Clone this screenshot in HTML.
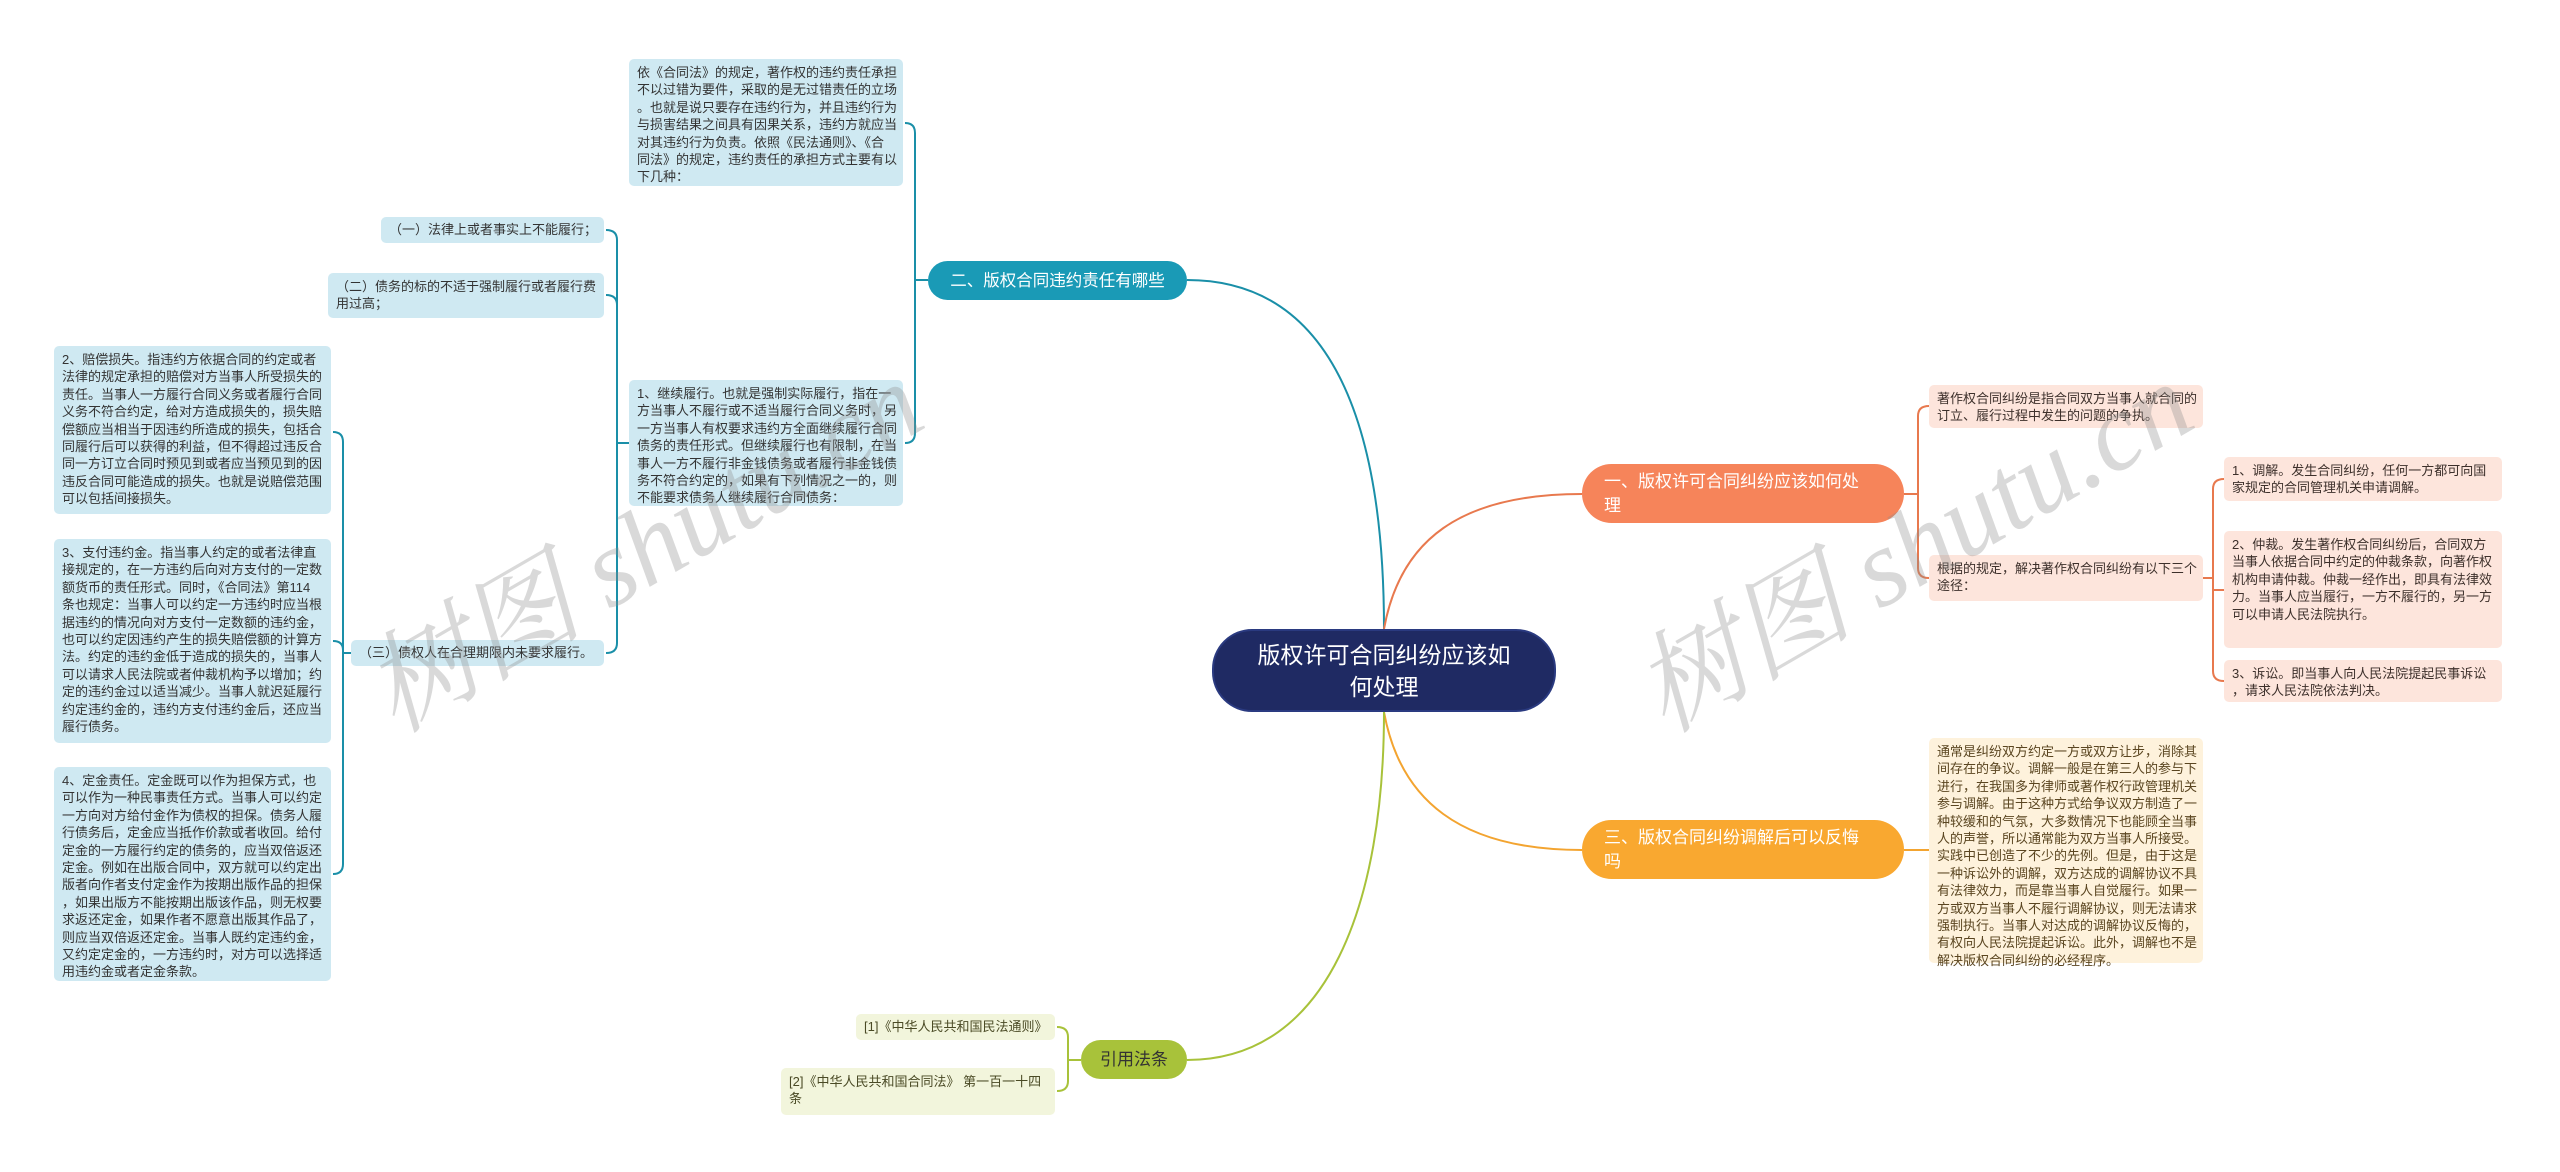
<!DOCTYPE html>
<html><head><meta charset="utf-8"><style>
html,body{margin:0;padding:0}
body{width:2560px;height:1172px;position:relative;background:#fff;overflow:hidden;font-family:"Liberation Sans","Noto Sans CJK SC",sans-serif}
.b{position:absolute;box-sizing:border-box;font-size:13px;line-height:17.4px;padding:5px 8px;border-radius:5px;white-space:nowrap;color:#333}
.bl{background:#cfe9f2}
.pk{background:#fde5dc;color:#3d302b}
.yl{background:#fef2dc;color:#5a4520}
.gr{background:#f2f5dc;color:#4a4a25}
.n{position:absolute;box-sizing:border-box;color:#fff;font-size:17px;line-height:24px;border-radius:30px;padding:0 22px;display:flex;align-items:center}
.wm{position:absolute;font-family:"Liberation Serif","Noto Serif CJK SC",serif;font-size:110px;color:rgba(140,140,140,0.33);transform:rotate(-30deg);white-space:nowrap;font-style:italic}
svg{position:absolute;left:0;top:0}
</style></head><body>
<svg width="2560" height="1172" fill="none" stroke-width="2">
<path d="M1384,629 C1384,420 1330,280 1187,280" stroke="#1a8fa8"/>
<path d="M1384,629 C1400,540 1460,494 1582,494" stroke="#e8794e"/>
<path d="M1384,712 C1400,800 1460,850 1582,850" stroke="#f3a430"/>
<path d="M1384,712 C1384,900 1330,1060 1187,1060" stroke="#a8c23a"/>
<g stroke="#1a8fa8">
<path d="M928,280 H915 M915,280 V133 Q915,123 905,123 M915,280 V433 Q915,443 905,443"/>
<path d="M629,443 H617 M617,443 V240 Q617,230 606,230 M617,443 V305 Q617,295 606,295 M617,443 V643 Q617,653 606,653"/>
<path d="M351,653 H343 M343,653 V442 Q343,432 333,432 M343,653 V650 Q343,641 333,641 M343,653 V864 Q343,874 333,874"/>
</g>
<g stroke="#e8794e">
<path d="M1904,494 H1918 M1918,494 V416 Q1918,406 1929,406 M1918,494 V568 Q1918,578 1929,578"/>
<path d="M2203,578 H2213 M2213,578 V489 Q2213,479 2224,479 M2213,578 V590 H2224 M2213,578 V671 Q2213,681 2224,681"/>
</g>
<path d="M1904,850 H1929" stroke="#f3a430"/>
<path d="M1081,1060 H1068 M1068,1060 V1037 Q1068,1027 1057,1027 M1068,1060 V1081 Q1068,1091 1057,1091" stroke="#a8c23a"/>
</svg>

<div class="n" style="left:1212px;top:629px;width:344px;height:83px;background:#1f2a63;border-radius:40px;font-size:23px;line-height:32px;justify-content:center;text-align:center;border:2px solid #2a3a80">版权许可合同纠纷应该如<br>何处理</div>
<div class="n" style="left:928px;top:261px;width:259px;height:39px;background:#1a9ab6;justify-content:center;padding:0;white-space:nowrap;font-size:16.5px">二、版权合同违约责任有哪些</div>
<div class="n" style="left:1582px;top:464px;width:322px;height:59px;background:#f6845a">一、版权许可合同纠纷应该如何处<br>理</div>
<div class="n" style="left:1582px;top:820px;width:322px;height:59px;background:#f9a830">三、版权合同纠纷调解后可以反悔<br>吗</div>
<div class="n" style="left:1081px;top:1040px;width:106px;height:39px;background:#a8c23a;color:#333;justify-content:center;padding:0">引用法条</div>

<div class="b bl" style="left:629px;top:59px;width:274px;height:127px">依《合同法》的规定，著作权的违约责任承担<br>不以过错为要件，采取的是无过错责任的立场<br>。也就是说只要存在违约行为，并且违约行为<br>与损害结果之间具有因果关系，违约方就应当<br>对其违约行为负责。依照《民法通则》、《合<br>同法》的规定，违约责任的承担方式主要有以<br>下几种：</div>
<div class="b bl" style="left:629px;top:380px;width:274px;height:126px">1、继续履行。也就是强制实际履行，指在一<br>方当事人不履行或不适当履行合同义务时，另<br>一方当事人有权要求违约方全面继续履行合同<br>债务的责任形式。但继续履行也有限制，在当<br>事人一方不履行非金钱债务或者履行非金钱债<br>务不符合约定的，如果有下列情况之一的，则<br>不能要求债务人继续履行合同债务：</div>
<div class="b bl" style="left:381px;top:217px;width:223px;height:26px;padding-top:4px;text-align:right">（一）法律上或者事实上不能履行；</div>
<div class="b bl" style="left:328px;top:273px;width:276px;height:45px">（二）债务的标的不适于强制履行或者履行费<br>用过高；</div>
<div class="b bl" style="left:351px;top:640px;width:253px;height:26px;padding-top:4px">（三）债权人在合理期限内未要求履行。</div>
<div class="b bl" style="left:54px;top:346px;width:277px;height:168px">2、赔偿损失。指违约方依据合同的约定或者<br>法律的规定承担的赔偿对方当事人所受损失的<br>责任。当事人一方履行合同义务或者履行合同<br>义务不符合约定，给对方造成损失的，损失赔<br>偿额应当相当于因违约所造成的损失，包括合<br>同履行后可以获得的利益，但不得超过违反合<br>同一方订立合同时预见到或者应当预见到的因<br>违反合同可能造成的损失。也就是说赔偿范围<br>可以包括间接损失。</div>
<div class="b bl" style="left:54px;top:539px;width:277px;height:204px">3、支付违约金。指当事人约定的或者法律直<br>接规定的，在一方违约后向对方支付的一定数<br>额货币的责任形式。同时，《合同法》第114<br>条也规定：当事人可以约定一方违约时应当根<br>据违约的情况向对方支付一定数额的违约金，<br>也可以约定因违约产生的损失赔偿额的计算方<br>法。约定的违约金低于造成的损失的，当事人<br>可以请求人民法院或者仲裁机构予以增加；约<br>定的违约金过以适当减少。当事人就迟延履行<br>约定违约金的，违约方支付违约金后，还应当<br>履行债务。</div>
<div class="b bl" style="left:54px;top:767px;width:277px;height:214px">4、定金责任。定金既可以作为担保方式，也<br>可以作为一种民事责任方式。当事人可以约定<br>一方向对方给付金作为债权的担保。债务人履<br>行债务后，定金应当抵作价款或者收回。给付<br>定金的一方履行约定的债务的，应当双倍返还<br>定金。例如在出版合同中，双方就可以约定出<br>版者向作者支付定金作为按期出版作品的担保<br>，如果出版方不能按期出版该作品，则无权要<br>求返还定金，如果作者不愿意出版其作品了，<br>则应当双倍返还定金。当事人既约定违约金，<br>又约定定金的，一方违约时，对方可以选择适<br>用违约金或者定金条款。</div>

<div class="b pk" style="left:1929px;top:385px;width:274px;height:43px">著作权合同纠纷是指合同双方当事人就合同的<br>订立、履行过程中发生的问题的争执。</div>
<div class="b pk" style="left:1929px;top:555px;width:274px;height:46px">根据的规定，解决著作权合同纠纷有以下三个<br>途径：</div>
<div class="b pk" style="left:2224px;top:457px;width:278px;height:44px">1、调解。发生合同纠纷，任何一方都可向国<br>家规定的合同管理机关申请调解。</div>
<div class="b pk" style="left:2224px;top:531px;width:278px;height:117px">2、仲裁。发生著作权合同纠纷后，合同双方<br>当事人依据合同中约定的仲裁条款，向著作权<br>机构申请仲裁。仲裁一经作出，即具有法律效<br>力。当事人应当履行，一方不履行的，另一方<br>可以申请人民法院执行。</div>
<div class="b pk" style="left:2224px;top:660px;width:278px;height:42px">3、诉讼。即当事人向人民法院提起民事诉讼<br>，请求人民法院依法判决。</div>
<div class="b yl" style="left:1929px;top:738px;width:274px;height:225px">通常是纠纷双方约定一方或双方让步，消除其<br>间存在的争议。调解一般是在第三人的参与下<br>进行，在我国多为律师或著作权行政管理机关<br>参与调解。由于这种方式给争议双方制造了一<br>种较缓和的气氛，大多数情况下也能顾全当事<br>人的声誉，所以通常能为双方当事人所接受。<br>实践中已创造了不少的先例。但是，由于这是<br>一种诉讼外的调解，双方达成的调解协议不具<br>有法律效力，而是靠当事人自觉履行。如果一<br>方或双方当事人不履行调解协议，则无法请求<br>强制执行。当事人对达成的调解协议反悔的，<br>有权向人民法院提起诉讼。此外，调解也不是<br>解决版权合同纠纷的必经程序。</div>
<div class="b gr" style="left:856px;top:1014px;width:199px;height:26px;padding-top:4px">[1]《中华人民共和国民法通则》</div>
<div class="b gr" style="left:781px;top:1068px;width:274px;height:47px">[2]《中华人民共和国合同法》 第一百一十四<br>条</div>

<div class="wm" style="left:330px;top:460px">树图 shutu.cn</div>
<div class="wm" style="left:1600px;top:460px">树图 shutu.cn</div>
</body></html>
